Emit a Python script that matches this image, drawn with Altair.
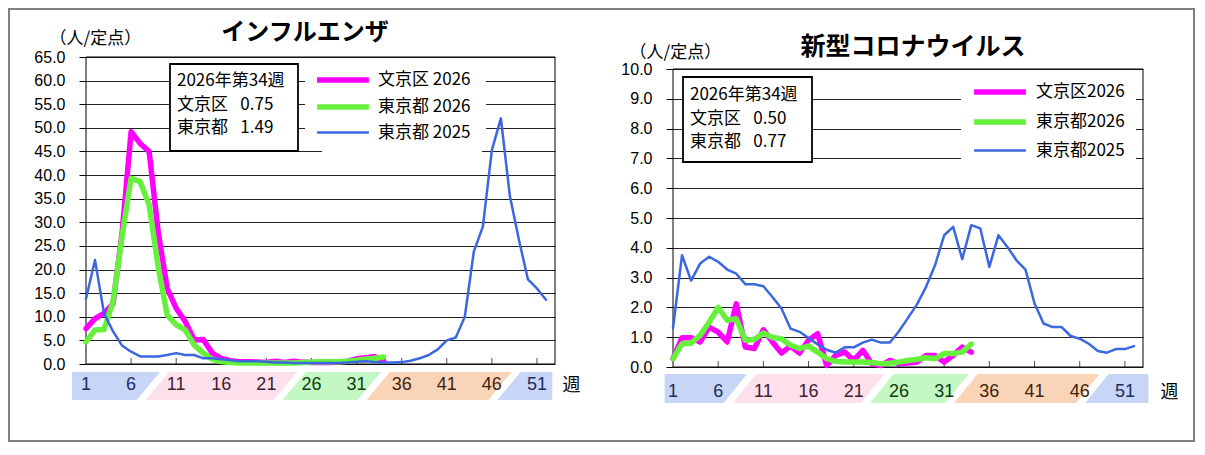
import altair as alt
import pandas as pd

JP = "Noto Sans CJK JP"
NUM = "Liberation Sans"

weeks_2025 = list(range(1, 53))
weeks_2026 = list(range(1, 35))
latest_year = 2026
latest_week = 34

# インフルエンザ (人/定点)
flu_bunkyo_2026 = [7.5, 9.6, 10.7, 12.8, 27.7, 49.2, 46.7, 45.0, 28.0, 16.0,
                   11.8, 9.0, 5.1, 5.2, 2.3, 1.2, 0.7, 0.5, 0.5, 0.4,
                   0.3, 0.6, 0.3, 0.6, 0.4, 0.3, 0.3, 0.3, 0.4, 0.6,
                   1.1, 1.3, 1.6, 0.75]
flu_tokyo_2026 = [4.7, 7.2, 7.3, 13.2, 27.0, 39.3, 38.6, 33.7, 20.6, 10.4,
                  8.3, 7.2, 4.0, 2.3, 1.0, 0.5, 0.3, 0.2, 0.2, 0.2,
                  0.2, 0.2, 0.2, 0.2, 0.3, 0.4, 0.5, 0.5, 0.5, 0.6,
                  0.8, 1.0, 1.2, 1.49]
flu_tokyo_2025 = [13.8, 22.0, 10.7, 6.9, 3.9, 2.6, 1.6, 1.6, 1.6, 1.9,
                  2.3, 1.9, 1.9, 1.2, 1.2, 1.0, 0.8, 0.6, 0.6, 0.6,
                  0.5, 0.3, 0.3, 0.2, 0.2, 0.2, 0.2, 0.2, 0.2, 0.3,
                  0.5, 0.6, 0.4, 0.3, 0.3, 0.4, 0.7, 1.2, 1.9, 3.1,
                  5.0, 5.6, 10.0, 23.8, 29.1, 45.3, 52.0, 35.5, 26.3, 17.9,
                  16.0, 13.6]
flu_latest = [0.75, 1.49]

# 新型コロナウイルス (人/定点)
cov_bunkyo_2026 = [0.28, 0.98, 0.98, 0.84, 1.34, 1.17, 0.84, 2.12, 0.67, 0.62,
                   1.25, 0.84, 0.47, 0.70, 0.47, 0.90, 1.12, 0.05, 0.39, 0.50,
                   0.22, 0.56, 0.11, 0.05, 0.22, 0.11, 0.13, 0.17, 0.39, 0.39,
                   0.17, 0.39, 0.67, 0.50]
cov_tokyo_2026 = [0.28, 0.78, 0.80, 1.06, 1.50, 2.00, 1.57, 1.62, 0.90, 0.92,
                  1.14, 0.99, 0.95, 0.73, 0.62, 0.70, 0.50, 0.28, 0.19, 0.17,
                  0.17, 0.17, 0.15, 0.11, 0.13, 0.17, 0.22, 0.26, 0.31, 0.28,
                  0.45, 0.45, 0.50, 0.77]
cov_tokyo_2025 = [1.30, 3.75, 2.90, 3.47, 3.70, 3.53, 3.27, 3.13, 2.78, 2.78,
                  2.71, 2.35, 1.96, 1.29, 1.18, 0.97, 0.76, 0.58, 0.48, 0.66,
                  0.66, 0.82, 0.92, 0.82, 0.82, 1.20, 1.65, 2.10, 2.69, 3.42,
                  4.42, 4.70, 3.62, 4.76, 4.65, 3.36, 4.42, 4.03, 3.58, 3.27,
                  2.13, 1.46, 1.34, 1.34, 1.04, 0.95, 0.78, 0.54, 0.48, 0.60,
                  0.60, 0.70]
cov_latest = [0.50, 0.77]

flu_names = ["文京区 2026", "東京都 2026", "東京都 2025"]
cov_names = ["文京区2026", "東京都2026", "東京都2025"]

label_weeks = list(range(1, 53, 5))
season_edges = [8.4, 23.6, 32.9, 47.4]   # 冬|春|夏|秋|冬 の境目(週)

LINE_COLORS = ["#ff00ff", "#66f23c", "#3b68e0"]
LINE_WIDTHS = [5.5, 5.5, 2.5]
SEASON_FILL = ["#c7d5f6", "#fde0ec", "#c3f7c3", "#fad4b6", "#c7d5f6"]
LABEL_COLORS = ["#1c2c5c", "#3e2030", "#103c10", "#3e2410"]
LEGEND_PATH = "M-3.7,0L3.7,0"

one = pd.DataFrame({"k": [0]})


def band_frame(start, end, top, bottom, h=1.3, g=0.5):
    cuts = [start] + season_edges + [end]
    rows = []
    for i in range(5):
        L, R = cuts[i], cuts[i + 1]
        lt = L if i == 0 else L + h + g
        lb = L if i == 0 else L - h + g
        rt = R if i == 4 else R + h - g
        rb = R if i == 4 else R - h - g
        rows.append({"seg": i, "y": top, "xa": lt, "xb": rt})
        rows.append({"seg": i, "y": bottom, "xa": lb, "xb": rb})
    return pd.DataFrame(rows)


def rect(b, **style):
    return alt.Chart(one).mark_rect(**style).encode(
        x=alt.value(b[0]), x2=alt.value(b[1]), y=alt.value(b[2]), y2=alt.value(b[3]))


def panel(p):
    W, H = p["width"], p["height"]
    ppu = H / p["ytop"]
    x_scale = alt.Scale(domain=[1, 53], nice=False, zero=False)
    y_scale = alt.Scale(domain=[0, p["ytop"]], nice=False, zero=False)
    x_axis = alt.Axis(labels=False, ticks=False, domain=False, grid=False,
                      title="週", titleFont=JP, titleFontSize=18,
                      titleFontWeight="normal", titleColor="black",
                      titleAlign="left", titleBaseline="middle",
                      titleX=p["week_x"], titleY=p["week_y"])
    y_axis = alt.Axis(values=p["yticks"], format=".1f", labelFont=NUM,
                      labelFontSize=16, labelColor="black", labelPadding=14,
                      tickSize=7, tickColor="black", domain=False,
                      grid=True, gridColor="#222222", gridWidth=1,
                      title="（人/定点）", titleFont=JP, titleFontSize=17,
                      titleFontWeight="normal", titleColor="black",
                      titleAngle=0, titleAlign="left", titleBaseline="middle",
                      titleX=p["ytitle_x"], titleY=p["ytitle_y"])

    # 季節の帯
    band = band_frame(p["band_start"], p["band_end"],
                      -p["band_px"][0] / ppu, -p["band_px"][1] / ppu)
    band_area = alt.Chart(band).mark_area(orient="horizontal").encode(
        y=alt.Y("y:Q", scale=y_scale, axis=y_axis),
        x=alt.X("xa:Q", scale=x_scale, axis=x_axis, stack=None),
        x2="xb:Q",
        fill=alt.Fill("seg:N", scale=alt.Scale(domain=list(range(5)), range=SEASON_FILL),
                      legend=None),
    )
    labels = pd.DataFrame({
        "week": label_weeks,
        "label": [str(w) for w in label_weeks],
        "season": [sum(w > e for e in season_edges) % 4 for w in label_weeks],
    })
    band_text = alt.Chart(labels).mark_text(font=NUM, fontSize=18, align="center",
                                            baseline="middle").encode(
        x=alt.X("week:Q", scale=x_scale, axis=x_axis),
        y=alt.value(H + p["label_dy"]),
        text="label:N",
        color=alt.Color("season:N", scale=alt.Scale(domain=[0, 1, 2, 3], range=LABEL_COLORS),
                        legend=None),
    )
    ticks = alt.Chart(pd.DataFrame({"week": label_weeks[1:]})).mark_tick(
        color="black", thickness=1, size=6).encode(
        x=alt.X("week:Q", scale=x_scale, axis=x_axis),
        y=alt.value(H - 3),
    )
    frame = alt.Chart(pd.DataFrame({"x0": [1], "x1": [53], "y0": [0], "y1": [p["yticks"][-1]]})
                      ).mark_rect(filled=False, stroke="black", strokeWidth=1).encode(
        x=alt.X("x0:Q", scale=x_scale, axis=x_axis), x2="x1:Q",
        y=alt.Y("y0:Q", scale=y_scale, axis=y_axis), y2="y1:Q",
    )

    names = p["names"]
    rows = []
    for name, wk, vals in zip(names, [weeks_2026, weeks_2026, weeks_2025], p["series"]):
        rows += [{"week": a, "value": v, "series": name} for a, v in zip(wk, vals)]
    df = pd.DataFrame(rows)
    legend = alt.Legend(title=None, orient="none", legendX=p["legend_x"], legendY=p["legend_y"],
                        symbolType=LEGEND_PATH, symbolSize=196, labelFont=JP,
                        labelFontSize=17, labelColor="black", labelOffset=p["label_offset"],
                        rowPadding=p["row_padding"], padding=11, fillColor="white")
    stroke = alt.Stroke("series:N", scale=alt.Scale(domain=names, range=LINE_COLORS),
                        legend=legend)
    swidth = alt.StrokeWidth("series:N",
                             scale=alt.Scale(type="ordinal", domain=names, range=LINE_WIDTHS),
                             legend=legend)
    lines = [
        alt.Chart(df).transform_filter(alt.datum.series == n)
        .mark_line(strokeJoin="round", strokeCap="round")
        .encode(x=alt.X("week:Q", scale=x_scale, axis=x_axis),
                y=alt.Y("value:Q", scale=y_scale, axis=y_axis),
                stroke=stroke, strokeWidth=swidth)
        for n in names
    ]

    # 凡例の白地と最新週の値
    legend_bg = rect(p["legend_bg"], fill="white", strokeWidth=0)
    box = rect(p["box"], fill="white", stroke="black", strokeWidth=1.8)
    info = [f"{latest_year}年第{latest_week}週",
            f"文京区 \u2002{p['latest'][0]:.2f}",
            f"東京都 \u2002{p['latest'][1]:.2f}"]
    box_text = alt.Chart(one).mark_text(text=info, font=JP, fontSize=17, lineHeight=23.5,
                                        align="left", baseline="middle", color="black").encode(
        x=alt.value(p["info_x"]), y=alt.value(p["info_y"]))
    title = alt.Chart(one).mark_text(text=p["title"], font=JP, fontSize=p["title_size"],
                                     fontWeight="bold", align="center", baseline="middle",
                                     color="black").encode(
        x=alt.value(p["title_x"]), y=alt.value(p["title_y"]))

    layers = [band_area, band_text, frame, ticks, legend_bg] + lines + [box, box_text, title]
    if p.get("outer"):
        layers.append(rect(p["outer"], filled=False, stroke="#7f7f7f", strokeWidth=2))
    return alt.layer(*layers).properties(width=W, height=H)


flu = panel({
    "title": "インフルエンザ", "title_size": 24, "title_x": 219, "title_y": -24,
    "names": flu_names, "series": [flu_bunkyo_2026, flu_tokyo_2026, flu_tokyo_2025],
    "latest": flu_latest, "width": 469, "height": 307, "ytop": 65,
    "yticks": list(range(0, 66, 5)),
    "ytitle_x": -37, "ytitle_y": -19, "week_x": 476, "week_y": 21,
    "band_px": (8, 36), "band_start": -0.55, "band_end": 52.7, "label_dy": 21,
    "legend_x": 236, "legend_y": 2, "label_offset": 25, "row_padding": 5,
    "legend_bg": (219, 400, 8, 83),
    "box": (84, 212, 7, 94), "info_x": 91, "info_y": 24,
    "outer": (-77, 1108, -48, 384),
})

cov = panel({
    "title": "新型コロナウイルス", "title_size": 25, "title_x": 240, "title_y": -10,
    "names": cov_names, "series": [cov_bunkyo_2026, cov_tokyo_2026, cov_tokyo_2025],
    "latest": cov_latest, "width": 470, "height": 310, "ytop": 10.403,
    "yticks": list(range(0, 11)),
    "ytitle_x": -44, "ytitle_y": -5, "week_x": 487, "week_y": 25,
    "band_px": (7, 36), "band_start": 0.07, "band_end": 53.6, "label_dy": 25,
    "legend_x": 306, "legend_y": 14, "label_offset": 26, "row_padding": 8,
    "legend_bg": (288, 461, 18, 108),
    "box": (10, 139, 20, 105), "info_x": 17, "info_y": 38,
})

chart = alt.hconcat(flu, cov, spacing=118, bounds="flush", padding=0).resolve_scale(
    stroke="independent", strokeWidth="independent", fill="independent",
    color="independent").resolve_legend(
    stroke="independent", strokeWidth="independent").configure_view(
    stroke=None).properties(background="white")

chart.save("out.html", embed_options={"renderer": "svg", "actions": False})
